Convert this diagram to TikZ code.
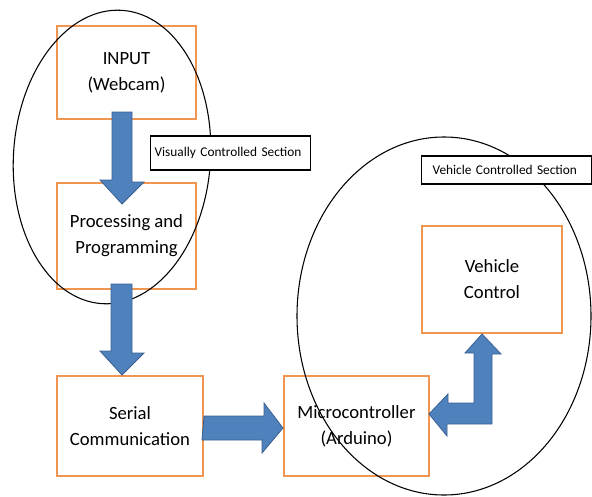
\documentclass[tikz,border=0pt]{standalone}
\usepackage{fontspec}
\setmainfont{Carlito}
\usetikzlibrary{calc}
\definecolor{boxorange}{RGB}{240,150,80}
\definecolor{arrowblue}{RGB}{79,129,189}
\definecolor{arrowedge}{RGB}{58,96,145}
\begin{document}
\begin{tikzpicture}[x=0.75pt,y=-0.75pt,
  stagebox/.style={draw=boxorange, line width=1.5pt, rectangle, align=center,
    font=\fontsize{14}{19.5}\selectfont, inner sep=0pt},
  sectionlabel/.style={draw=black, fill=white, line width=0.9pt, rectangle,
    align=left, font=\fontsize{10}{12}\selectfont, anchor=west},
  blockarrow/.style={fill=arrowblue, draw=arrowedge, line width=0.6pt, line join=miter},
  region/.style={draw=black, line width=0.8pt}]
\useasboundingbox (0,0) rectangle (592,496);

% processing stages
\node[stagebox, minimum width=104.25pt, minimum height=69.75pt] (in)   at (126.5,72.5) {INPUT\\(Webcam)};
\node[stagebox, minimum width=104.25pt, minimum height=79.5pt]  (proc) at (126.5,236)  {Processing and\\Programming};
\node[stagebox, minimum width=109.5pt,  minimum height=75pt]    (ser)  at (130,426)    {Serial\\Communication};
\node[stagebox, minimum width=108.75pt, minimum height=75pt]    (mc)   at (356.5,426)  {Microcontroller\\(Arduino)};
\node[stagebox, minimum width=105pt,    minimum height=80.25pt] (vc)   at (492,279.5)  {Vehicle\\Control};

% section outlines
\draw[region, rotate around={-4:(112,157)}] (112,157) ellipse [x radius=73.875pt, y radius=110.25pt];
\draw[region] (444,316) ellipse [x radius=110.25pt, y radius=134.25pt];

% block arrows between stages
\draw[blockarrow] ($(in.south)+(-14.5,-8)$) -- ++(20,0) -- ++(0,70) -- ++(12,0)
  -- ($(proc.north)+(-4.5,22)$) -- ++(-22,-24) -- ++(12,0) -- cycle;
\draw[blockarrow] ($(proc.south)+(-15.5,-6)$) -- ++(21,0) -- ++(0,69) -- ++(12,0)
  -- ($(ser.north)+(-8,0)$) -- ++(-22,-24) -- ++(11,0) -- cycle;
\draw[blockarrow] ($(ser.east)+(0,-10)$) -- ++(60,0) -- ++(0,-13)
  -- ($(mc.west)+(0,2)$) -- ++(-21,25) -- ++(0,-13) -- ++(-60,0) -- cycle;
\draw[blockarrow] ($(vc.south)+(-10,0)$) -- ++(19,20) -- ++(-9,0) -- ++(0,70)
  -- ++(-45,0) -- ++(0,12) -- ($(mc.east)+(-1,-12)$) -- ++(19,-20) -- ++(0,9)
  -- ++(26,0) -- ++(0,-50) -- ++(-9,0) -- cycle;

% section labels
\node[sectionlabel, inner xsep=3pt, text width=114pt, minimum height=25.5pt] (vislabel) at (150,153) {Visually Controlled Section};
\node[sectionlabel, inner xsep=8.25pt, text width=111pt, minimum height=21pt] (vehlabel) at (421,170) {Vehicle Controlled Section};
\end{tikzpicture}
\end{document}
